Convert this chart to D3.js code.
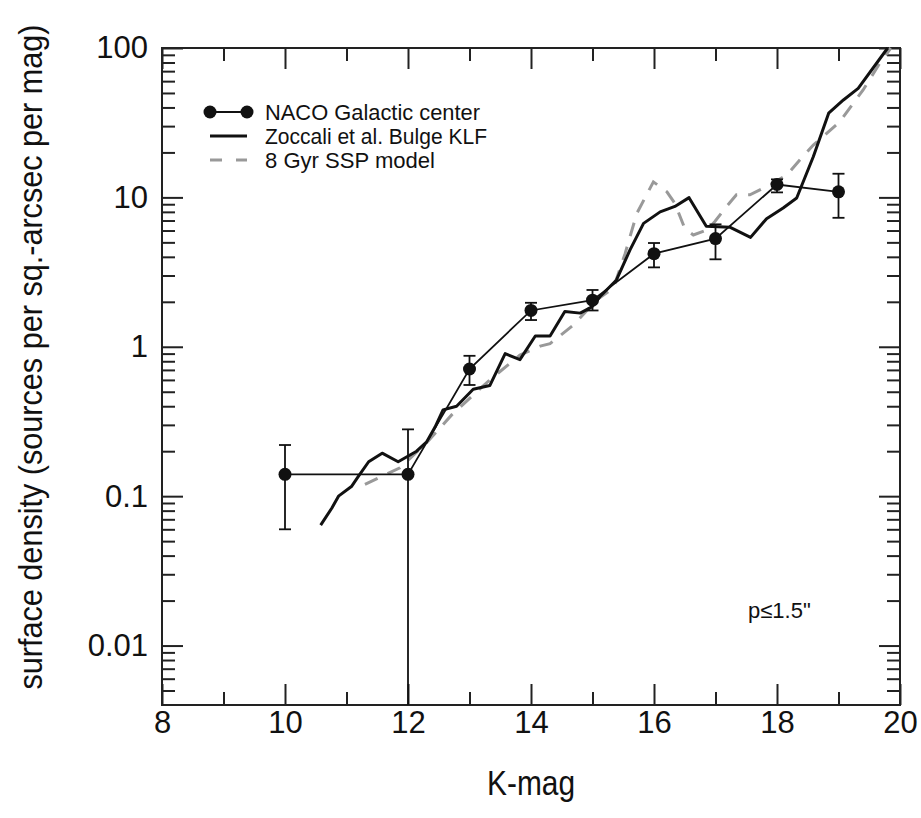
<!DOCTYPE html>
<html>
  <head>
    <meta charset="utf-8">
    <style>
    body { margin: 0; background: #fff; }
    text { font-family: "Liberation Sans", Arial, sans-serif; fill: #111; }
    </style>
    <script src="https://cdn.jsdelivr.net/npm/d3@7/dist/d3.min.js"></script>
  </head>
  <body>
    <script>
    // NACO Galactic center counts, K-mag bins with error bars
    var nacoK   = [10, 12, 13, 14, 15, 16, 17, 18, 19];
    var nacoVal = [0.14, 0.14, 0.71, 1.75, 2.05, 4.2, 5.3, 12.2, 10.9];
    var nacoLo  = [0.06, 0.004, 0.555, 1.51, 1.75, 3.4, 3.85, 10.8, 7.3];
    var nacoHi  = [0.22, 0.28, 0.87, 1.97, 2.4, 4.95, 6.6, 13.2, 14.4];

    // Zoccali et al. bulge KLF (solid)
    var zocK = [10.58, 10.76, 10.87, 11.08, 11.19, 11.36, 11.58, 11.84, 12.14, 12.3, 12.44, 12.57,
                12.79, 13.06, 13.33, 13.58, 13.82, 14.07, 14.31, 14.55, 14.8, 14.99, 15.12, 15.39,
                15.61, 15.83, 16.1, 16.34, 16.57, 16.85, 17.24, 17.57, 17.83, 18.1, 18.32, 18.59,
                18.84, 19.08, 19.32, 19.8];
    var zocVal = [0.064, 0.083, 0.1, 0.116, 0.135, 0.17, 0.194, 0.17, 0.2, 0.23, 0.29, 0.378,
                  0.4, 0.52, 0.55, 0.9, 0.82, 1.18, 1.18, 1.72, 1.68, 1.85, 2.16, 2.8,
                  4.45, 6.7, 8.0, 8.7, 9.96, 6.4, 6.3, 5.4, 7.2, 8.5, 9.9, 18.7,
                  36.6, 44.9, 53.7, 100];

    // 8 Gyr SSP model (dashed)
    var sspK = [11.3, 11.87, 12.3, 12.71, 13.33, 13.82, 14.15, 14.31, 14.69, 15.07, 15.34, 15.53,
                15.72, 15.99, 16.21, 16.34, 16.5, 16.64, 16.86, 16.99, 17.18, 17.34, 17.56, 17.83,
                18.16, 18.37, 18.59, 19.02, 19.4, 19.67, 19.85];
    var sspVal = [0.12, 0.155, 0.227, 0.35, 0.6, 0.88, 1.01, 1.05, 1.4, 2.06, 2.47, 4.2,
                  7.8, 12.7, 10.9, 9.1, 6.2, 5.6, 6.05, 6.9, 8.7, 10.4, 10.4, 11.8,
                  14.1, 17.8, 22.4, 32.1, 52.4, 79, 100];

    var xMajor = [8, 10, 12, 14, 16, 18, 20];
    var xMinor = [9, 11, 13, 15, 17, 19];
    var yMajor = [0.01, 0.1, 1, 10, 100];
    var yLabels = ["0.01", "0.1", "1", "10", "100"];
    var legendNames = ["NACO Galactic center", "Zoccali et al. Bulge KLF", "8 Gyr SSP model"];

    var width = 921, height = 818;
    var plotL = 162, plotR = 900, plotT = 48, plotB = 705;

    var svg = d3.select("body").append("svg")
        .attr("width", width)
        .attr("height", height);

    var x = d3.scaleLinear().domain([8, 20]).range([plotL, plotR]);
    var y = d3.scaleLog().domain([0.004, 100]).range([plotB, plotT]).clamp(true);

    var yMinor = [];
    [0.001, 0.01, 0.1, 1, 10].forEach(function (d) {
      for (var k = 2; k <= 9; k++) {
        var v = d * k;
        if (v > 0.004 && v < 100) yMinor.push(v);
      }
    });

    function styleAxis(g) {
      g.select(".domain").remove();
      g.selectAll(".tick line").attr("stroke", "#222").attr("stroke-width", 2);
    }

    // ticks, all pointing into the frame
    svg.append("g").attr("transform", "translate(0," + plotB + ")")
      .call(d3.axisBottom(x).tickValues(xMajor).tickSize(-21).tickPadding(6).tickFormat(d3.format("d")))
      .call(styleAxis)
      .selectAll("text").attr("font-size", 31).attr("dy", "0.72em");
    svg.append("g").attr("transform", "translate(0," + plotB + ")")
      .call(d3.axisBottom(x).tickValues(xMinor).tickSize(-13).tickFormat(""))
      .call(styleAxis);
    svg.append("g").attr("transform", "translate(0," + plotT + ")")
      .call(d3.axisTop(x).tickValues(xMajor).tickSize(-21).tickFormat(""))
      .call(styleAxis);
    svg.append("g").attr("transform", "translate(0," + plotT + ")")
      .call(d3.axisTop(x).tickValues(xMinor).tickSize(-13).tickFormat(""))
      .call(styleAxis);

    svg.append("g").attr("transform", "translate(" + plotL + ",0)")
      .call(d3.axisLeft(y).tickValues(yMajor).tickSize(-21).tickPadding(14)
        .tickFormat(function (d, i) { return yLabels[i]; }))
      .call(styleAxis)
      .selectAll("text").attr("font-size", 31);
    svg.append("g").attr("transform", "translate(" + plotL + ",0)")
      .call(d3.axisLeft(y).tickValues(yMinor).tickSize(-13).tickFormat(""))
      .call(styleAxis);
    svg.append("g").attr("transform", "translate(" + plotR + ",0)")
      .call(d3.axisRight(y).tickValues(yMajor).tickSize(-21).tickFormat(""))
      .call(styleAxis);
    svg.append("g").attr("transform", "translate(" + plotR + ",0)")
      .call(d3.axisRight(y).tickValues(yMinor).tickSize(-13).tickFormat(""))
      .call(styleAxis);

    // frame
    svg.append("rect")
      .attr("x", plotL).attr("y", plotT)
      .attr("width", plotR - plotL).attr("height", plotB - plotT)
      .attr("fill", "none").attr("stroke", "#222").attr("stroke-width", 2);

    var plot = svg.append("g");

    var line = d3.line()
      .x(function (d) { return x(d[0]); })
      .y(function (d) { return y(d[1]); });

    // SSP model
    plot.append("path")
      .datum(d3.zip(sspK, sspVal))
      .attr("d", line)
      .attr("fill", "none")
      .attr("stroke", "#999")
      .attr("stroke-width", 3)
      .attr("stroke-dasharray", "14,11");

    // Zoccali KLF
    plot.append("path")
      .datum(d3.zip(zocK, zocVal))
      .attr("d", line)
      .attr("fill", "none")
      .attr("stroke", "#111")
      .attr("stroke-width", 3)
      .attr("stroke-linejoin", "round");

    // NACO
    var naco = nacoK.map(function (k, i) {
      return { k: k, v: nacoVal[i], lo: nacoLo[i], hi: nacoHi[i] };
    });

    plot.append("path")
      .datum(naco.map(function (d) { return [d.k, d.v]; }))
      .attr("d", line)
      .attr("fill", "none")
      .attr("stroke", "#111")
      .attr("stroke-width", 1.8);

    var eb = plot.selectAll(".err").data(naco).enter().append("g").attr("class", "err")
      .attr("stroke", "#111").attr("stroke-width", 1.8);
    eb.append("line")
      .attr("x1", function (d) { return x(d.k); }).attr("x2", function (d) { return x(d.k); })
      .attr("y1", function (d) { return y(d.lo); }).attr("y2", function (d) { return y(d.hi); });
    eb.append("line")
      .attr("x1", function (d) { return x(d.k) - 6; }).attr("x2", function (d) { return x(d.k) + 6; })
      .attr("y1", function (d) { return y(d.hi); }).attr("y2", function (d) { return y(d.hi); });
    eb.filter(function (d) { return d.lo > 0.004; }).append("line")
      .attr("x1", function (d) { return x(d.k) - 6; }).attr("x2", function (d) { return x(d.k) + 6; })
      .attr("y1", function (d) { return y(d.lo); }).attr("y2", function (d) { return y(d.lo); });

    plot.selectAll(".pt").data(naco).enter().append("circle")
      .attr("cx", function (d) { return x(d.k); })
      .attr("cy", function (d) { return y(d.v); })
      .attr("r", 6.5)
      .attr("fill", "#111");

    // legend
    var lg = svg.append("g");
    var rows = [112, 136, 160];
    lg.append("line").attr("x1", 210).attr("x2", 247).attr("y1", rows[0]).attr("y2", rows[0])
      .attr("stroke", "#111").attr("stroke-width", 1.8);
    lg.selectAll("circle").data([210, 247]).enter().append("circle")
      .attr("cx", function (d) { return d; }).attr("cy", rows[0]).attr("r", 6.5).attr("fill", "#111");
    lg.append("line").attr("x1", 210).attr("x2", 247).attr("y1", rows[1]).attr("y2", rows[1])
      .attr("stroke", "#111").attr("stroke-width", 3);
    lg.append("line").attr("x1", 210).attr("x2", 247).attr("y1", rows[2]).attr("y2", rows[2])
      .attr("stroke", "#999").attr("stroke-width", 3).attr("stroke-dasharray", "12,14");
    lg.selectAll("text").data(legendNames).enter().append("text")
      .attr("x", 265)
      .attr("y", function (d, i) { return rows[i]; })
      .attr("dy", "0.36em")
      .attr("font-size", 22)
      .attr("textLength", function (d, i) { return [215, 222, 170][i]; })
      .attr("lengthAdjust", "spacingAndGlyphs")
      .text(function (d) { return d; });

    svg.append("text")
      .attr("x", 748).attr("y", 618)
      .attr("font-size", 22)
      .text("p\u22641.5\"");

    // axis titles
    svg.append("text")
      .attr("x", (plotL + plotR) / 2).attr("y", 795)
      .attr("text-anchor", "middle")
      .attr("font-size", 35)
      .attr("textLength", 88).attr("lengthAdjust", "spacingAndGlyphs")
      .text("K-mag");

    svg.append("text")
      .attr("transform", "translate(42,357) rotate(-90)")
      .attr("text-anchor", "middle")
      .attr("font-size", 34)
      .attr("textLength", 665).attr("lengthAdjust", "spacingAndGlyphs")
      .text("surface density (sources per sq.-arcsec per mag)");
    </script>
  </body>
</html>
